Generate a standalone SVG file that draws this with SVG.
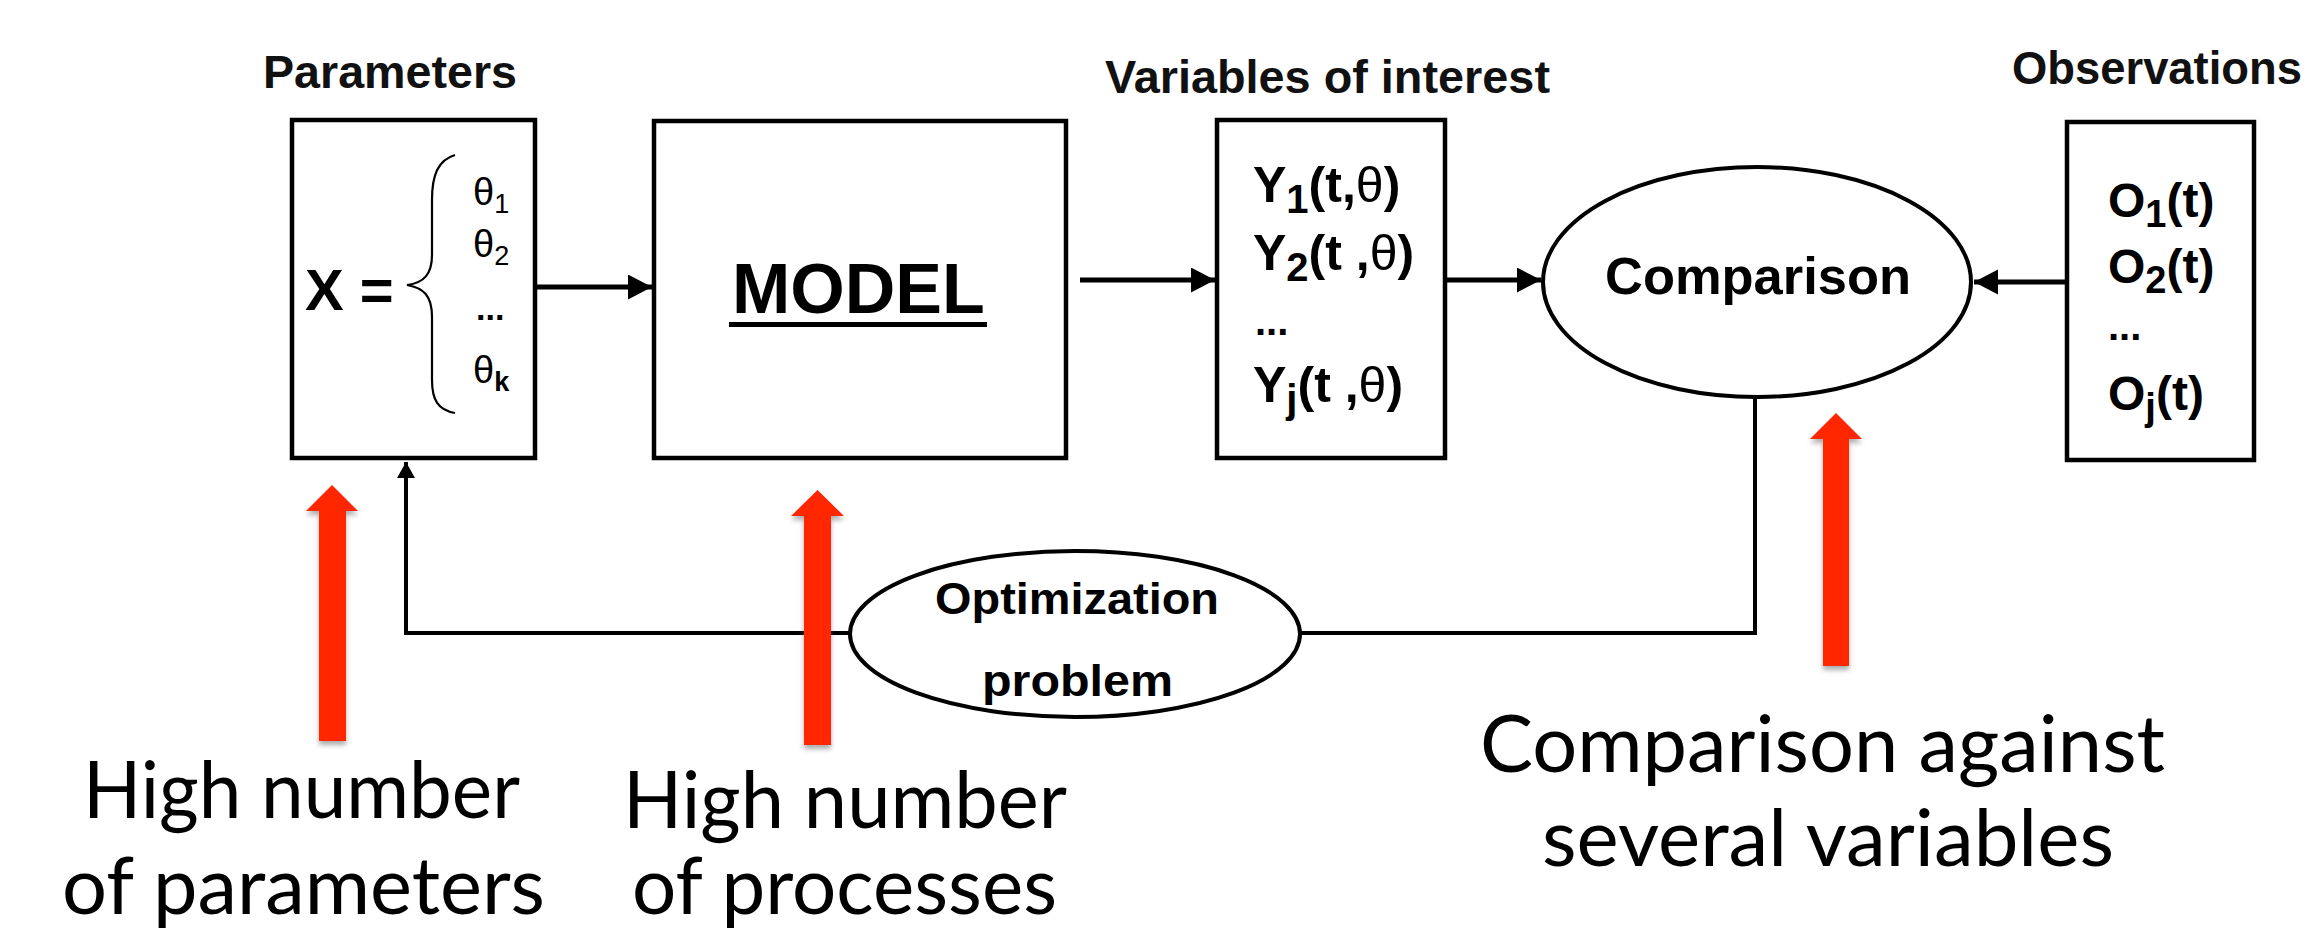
<svg xmlns="http://www.w3.org/2000/svg" width="2305" height="934" viewBox="0 0 2305 934">
<defs>
  <style>
    .box{fill:#fff;stroke:#000;stroke-width:4.5}
    .ell{fill:#fff;stroke:#000;stroke-width:4}
    .hd{font-family:"Liberation Sans",Arial,sans-serif;font-weight:bold;font-size:46px;fill:#111}
    .bt{font-family:"Liberation Sans",Arial,sans-serif;font-weight:bold;fill:#000}
    .th{font-family:"Liberation Sans",Arial,sans-serif;font-weight:normal}
    .ann{font-family:Lato,"Open Sans",sans-serif;font-size:79px;fill:#000}
    .conn{fill:none;stroke:#000;stroke-width:5}
    .fb{fill:none;stroke:#000;stroke-width:4}
    .red{fill:#ff2600}
  </style>
  <marker id="ah" markerUnits="userSpaceOnUse" markerWidth="26" markerHeight="26" refX="24" refY="12.5" orient="auto">
    <path d="M0,0 L24,12.5 L0,25 z" fill="#000"/>
  </marker>
  <marker id="ahs" markerUnits="userSpaceOnUse" markerWidth="18" markerHeight="18" refX="16" refY="9" orient="auto">
    <path d="M0,0 L16,9 L0,18 z" fill="#000"/>
  </marker>
  <filter id="sh" x="-50%" y="-10%" width="200%" height="130%">
    <feDropShadow dx="0" dy="4" stdDeviation="2.5" flood-color="#777" flood-opacity="0.6"/>
  </filter>
</defs>
<rect width="2305" height="934" fill="#fff"/>

<g id="connectors">
  <line class="conn" x1="518" y1="287" x2="652" y2="287" marker-end="url(#ah)"/>
  <line class="conn" x1="1080" y1="280" x2="1215" y2="280" marker-end="url(#ah)"/>
  <line class="conn" x1="1433" y1="280" x2="1541" y2="280" marker-end="url(#ah)"/>
  <line class="conn" x1="2067" y1="282" x2="1974" y2="282" marker-end="url(#ah)"/>
  <polyline class="fb" points="1755,397 1755,633 1300,633"/>
  <line class="fb" x1="850" y1="633" x2="406" y2="633"/>
  <line class="fb" x1="406" y1="635" x2="406" y2="462" marker-end="url(#ahs)"/>
</g>

<g id="node-parameters">
  <text class="hd" x="263" y="88" textLength="254" lengthAdjust="spacingAndGlyphs">Parameters</text>
  <rect class="box" x="292" y="120" width="243" height="338"/>
  <text class="bt" x="305" y="310" font-size="58">X =</text>
  <path d="M455,155 C438,160 432,175 432,200 L432,255 C432,274 424,283 407,285 C424,288 432,296 432,317 L432,380 C432,400 438,410 455,413" fill="none" stroke="#000" stroke-width="2.2"/>
  <text class="th" x="473" y="205" font-size="38">θ<tspan dy="8" font-size="27">1</tspan></text>
  <text class="th" x="473" y="257" font-size="38">θ<tspan dy="8" font-size="27">2</tspan></text>
  <text class="bt" x="476" y="320" font-size="34">...</text>
  <text class="th" x="473" y="383" font-size="38">θ<tspan dy="8" font-size="27" font-weight="bold">k</tspan></text>
</g>

<g id="node-model">
  <rect class="box" x="654" y="121" width="412" height="337"/>
  <text class="bt" x="732" y="313" font-size="70">MODEL</text>
  <rect x="729" y="322" width="258" height="5" fill="#000"/>
</g>

<g id="node-variables">
  <text class="hd" x="1105" y="93" textLength="445" lengthAdjust="spacingAndGlyphs">Variables of interest</text>
  <rect class="box" x="1217" y="120" width="228" height="338"/>
  <text class="bt" x="1253" y="202" font-size="50">Y<tspan dy="11" font-size="40">1</tspan><tspan dy="-11">(t,</tspan><tspan class="th">θ</tspan>)</text>
  <text class="bt" x="1253" y="270" font-size="50">Y<tspan dy="11" font-size="40">2</tspan><tspan dy="-11">(t ,</tspan><tspan class="th">θ</tspan>)</text>
  <text class="bt" x="1255" y="335" font-size="40">...</text>
  <text class="bt" x="1253" y="402" font-size="50">Y<tspan dy="11" font-size="40">j</tspan><tspan dy="-11">(t ,</tspan><tspan class="th">θ</tspan>)</text>
</g>

<g id="node-comparison">
  <ellipse class="ell" cx="1757" cy="282" rx="214" ry="115"/>
  <text class="bt" x="1605" y="294" font-size="52" textLength="306" lengthAdjust="spacingAndGlyphs">Comparison</text>
</g>

<g id="node-observations">
  <text class="hd" x="2012" y="84" textLength="290" lengthAdjust="spacingAndGlyphs">Observations</text>
  <rect class="box" x="2067" y="122" width="187" height="338"/>
  <text class="bt" x="2108" y="217" font-size="48">O<tspan dy="10" font-size="38">1</tspan><tspan dy="-10">(t)</tspan></text>
  <text class="bt" x="2108" y="283" font-size="48">O<tspan dy="10" font-size="38">2</tspan><tspan dy="-10">(t)</tspan></text>
  <text class="bt" x="2108" y="340" font-size="40">...</text>
  <text class="bt" x="2108" y="410" font-size="48">O<tspan dy="10" font-size="38">j</tspan><tspan dy="-10">(t)</tspan></text>
</g>

<g id="node-optimization">
  <ellipse class="ell" cx="1075" cy="634" rx="225" ry="83"/>
  <text class="bt" x="935" y="614" font-size="44" textLength="284" lengthAdjust="spacingAndGlyphs">Optimization</text>
  <text class="bt" x="982" y="696" font-size="44" textLength="191" lengthAdjust="spacingAndGlyphs">problem</text>
</g>

<g id="annotations">
  <path class="red" filter="url(#sh)" d="M319,741 L319,511 L306,511 L332,485 L358,511 L346,511 L346,741 z"/>
  <path class="red" filter="url(#sh)" d="M804,745 L804,516 L791,516 L817.5,490 L844,516 L831,516 L831,745 z"/>
  <path class="red" filter="url(#sh)" d="M1823,666 L1823,439 L1810,439 L1836,413 L1862,439 L1849,439 L1849,666 z"/>
  <text class="ann" x="83" y="818" textLength="437" lengthAdjust="spacingAndGlyphs">High number</text>
  <text class="ann" x="62" y="914" textLength="483" lengthAdjust="spacingAndGlyphs">of parameters</text>
  <text class="ann" x="623" y="828" textLength="444" lengthAdjust="spacingAndGlyphs">High number</text>
  <text class="ann" x="632" y="914" textLength="425" lengthAdjust="spacingAndGlyphs">of processes</text>
  <text class="ann" x="1480" y="772" textLength="685" lengthAdjust="spacingAndGlyphs">Comparison against</text>
  <text class="ann" x="1542" y="866" textLength="572" lengthAdjust="spacingAndGlyphs">several variables</text>
</g>
</svg>
